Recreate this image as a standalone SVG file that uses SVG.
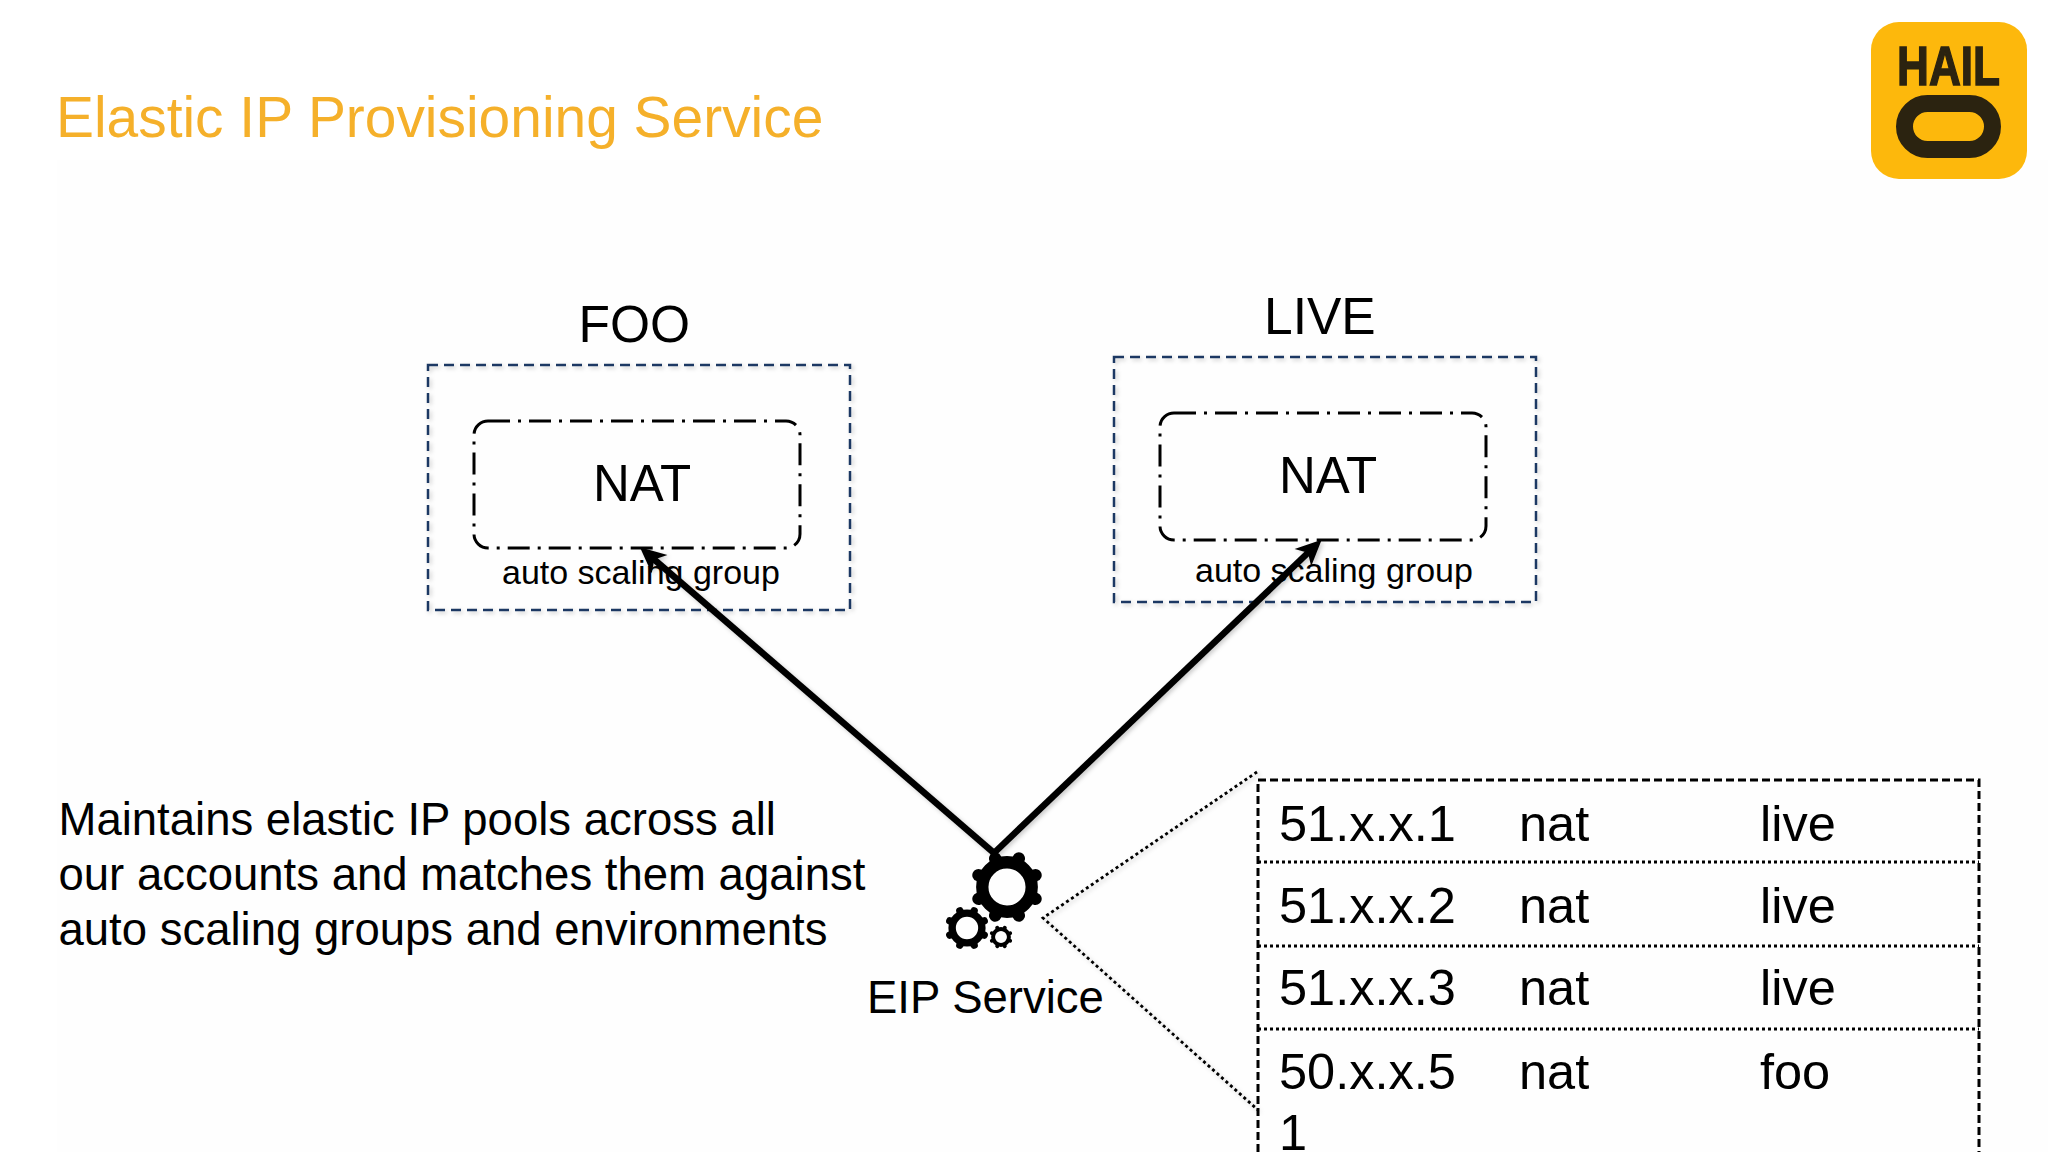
<svg xmlns="http://www.w3.org/2000/svg" xmlns:xlink="http://www.w3.org/1999/xlink" width="2048" height="1152" viewBox="0 0 2048 1152">
<style>
text{font-family:"Liberation Sans",Arial,sans-serif;fill:#000}
.title{font-size:56.9px;fill:#f5b02a}
.env{font-size:51.5px}
.nat{font-size:51px}
.asg{font-size:34px}
.para{font-size:45.5px}
.cell{font-size:50.5px}
.outer{fill:none;stroke:#1f3864;stroke-width:2.5;stroke-dasharray:10 6;filter:url(#sh)}
.inner{fill:none;stroke:#000;stroke-width:3;stroke-dasharray:22 8 3 8}
.arrow{stroke:#000;stroke-width:6.5;fill:none;marker-end:url(#head);filter:url(#sh)}
.dots{stroke:#000;stroke-width:2.8;fill:none;stroke-dasharray:3 3}
.tbl{stroke:#000;stroke-width:3;fill:none;stroke-dasharray:8 4}
</style>
<defs>
<filter id="sh" x="-10%" y="-10%" width="120%" height="120%"><feDropShadow dx="2" dy="2" stdDeviation="2" flood-color="#000" flood-opacity="0.2"/></filter>
<marker id="head" markerUnits="userSpaceOnUse" markerWidth="34" markerHeight="30" refX="16" refY="15" orient="auto"><path d="M28 15L2 3L9 15L2 27Z" fill="#000"/></marker>
<g id="gear">
<circle r="24" fill="none" stroke="#000" stroke-width="12"/>
<g stroke="#000" stroke-width="12" stroke-linecap="round">
<path d="M9.6 23.2L11.5 27.7M23.2 9.6L27.7 11.5M23.2 -9.6L27.7 -11.5M9.6 -23.2L11.5 -27.7M-9.6 -23.2L-11.5 -27.7M-23.2 -9.6L-27.7 -11.5M-23.2 9.6L-27.7 11.5M-9.6 23.2L-11.5 27.7"/>
</g>
</g>
</defs>
<rect width="2048" height="1152" fill="#fff"/>
<rect x="57" y="160" width="1991" height="992" fill="#fefefe"/>
<text class="title" x="56" y="136.5">Elastic IP Provisioning Service</text>
<g id="logo">
<rect x="1871" y="22" width="156" height="157" rx="28" fill="#fdb80c"/>
<text x="1897" y="85" font-size="56" font-weight="700" textLength="103" lengthAdjust="spacingAndGlyphs" style="fill:#2b2310;stroke:#2b2310;stroke-width:1.5">HAIL</text>
<rect x="1904.5" y="103.5" width="88" height="46" rx="23" fill="none" stroke="#2b2310" stroke-width="17"/>
</g>
<g id="foo">
<text class="env" x="578.5" y="342">FOO</text>
<rect class="outer" x="428" y="365" width="422" height="245"/>
<rect class="inner" x="474" y="421" width="326" height="127" rx="14"/>
<text class="nat" x="593" y="501">NAT</text>
<text class="asg" x="502" y="584">auto scaling group</text>
</g>
<g id="live">
<text class="env" x="1264" y="334">LIVE</text>
<rect class="outer" x="1114" y="357" width="422" height="245"/>
<rect class="inner" x="1160" y="413" width="326" height="127" rx="14"/>
<text class="nat" x="1279" y="493">NAT</text>
<text class="asg" x="1195" y="581.5">auto scaling group</text>
</g>
<g id="eip-service">
<use xlink:href="#gear" href="#gear" transform="translate(1007 887) scale(1.03)"/>
<use xlink:href="#gear" href="#gear" transform="translate(967 928) scale(0.62)"/>
<use xlink:href="#gear" href="#gear" transform="translate(1001 937) scale(0.33)"/>
<text x="867" y="1012.5" font-size="45.5">EIP Service</text>
</g>
<g id="description">
<text class="para" x="58.5" y="835">Maintains elastic IP pools across all</text>
<text class="para" x="58.5" y="889.5">our accounts and matches them against</text>
<text class="para" x="58.5" y="944.5">auto scaling groups and environments</text>
</g>
<g id="ip-table">
<path class="tbl" d="M1258 1152V780H1979V1152"/>
<path class="dots" d="M1258 862H1979M1258 946H1979M1258 1029H1979"/>
<text class="cell" x="1279" y="841">51.x.x.1</text><text class="cell" x="1519" y="841">nat</text><text class="cell" x="1760" y="841">live</text>
<text class="cell" x="1279" y="923">51.x.x.2</text><text class="cell" x="1519" y="923">nat</text><text class="cell" x="1760" y="923">live</text>
<text class="cell" x="1279" y="1005">51.x.x.3</text><text class="cell" x="1519" y="1005">nat</text><text class="cell" x="1760" y="1005">live</text>
<text class="cell" x="1279" y="1089">50.x.x.5</text><text class="cell" x="1519" y="1089">nat</text><text class="cell" x="1760" y="1089">foo</text>
<text class="cell" x="1279" y="1150">1</text>
</g>
<g id="connectors">
<path class="arrow" d="M994 853L649 555"/>
<path class="arrow" d="M994 853L1313 548"/>
<path class="dots" d="M1257 772L1043 918L1258 1110" filter="url(#sh)"/>
</g>
</svg>
